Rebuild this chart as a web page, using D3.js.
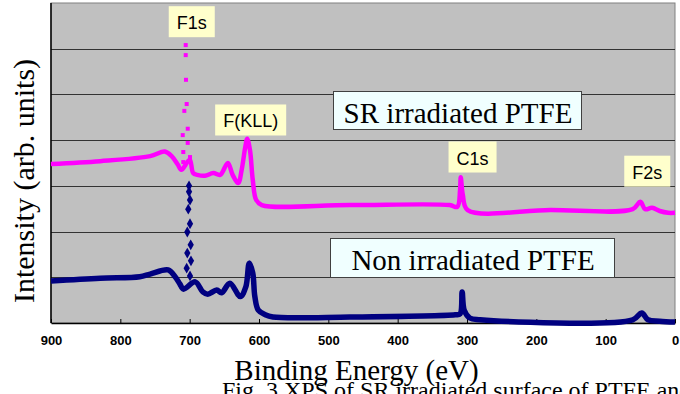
<!DOCTYPE html>
<html>
<head>
<meta charset="utf-8">
<script src="https://cdn.jsdelivr.net/npm/d3@7"></script>
<style>
  body { margin: 0; background: #fff; }
  svg { display: block; }
</style>
</head>
<body>
<div id="chart"></div>
<script>
// binding energy (eV) vs intensity (grid units)
const srLine = [
  [900, 3.48], [829, 3.54], [757, 3.65], [736, 3.75], [726, 3.65], [717, 3.46], [712, 3.35],
  [700, 3.57], [695, 3.28], [689, 3.24], [678, 3.22], [666, 3.28], [656, 3.24], [645, 3.50],
  [638, 3.24], [630, 3.06], [625, 3.35], [620, 3.83], [617, 4.03], [613, 3.78], [609, 3.13],
  [604, 2.69], [596, 2.58], [469, 2.58], [325, 2.58], [314, 2.54], [310, 2.91], [309, 3.19],
  [306, 2.80], [299, 2.47], [180, 2.47], [61, 2.49], [50, 2.65], [43, 2.49], [33, 2.52],
  [22, 2.45], [10, 2.41], [0, 2.41]
];
const srPeak = [
  [705.7, 6.08], [705.7, 5.86], [705.3, 5.32], [704.3, 4.79], [707.7, 4.64], [702.8, 4.25],
  [710.0, 4.11], [702.8, 3.94], [709.2, 3.74], [709.2, 3.52], [699.5, 3.63]
];
const nonLine = [
  [900, 0.92], [829, 0.98], [772, 1.01], [757, 1.07], [731, 1.16], [721, 1.01], [714, 0.85],
  [709, 0.74], [692, 0.90], [681, 0.68], [674, 0.63], [661, 0.72], [654, 0.66], [642, 0.87],
  [627, 0.58], [619, 0.79], [614, 1.31], [609, 1.09], [606, 0.58], [601, 0.28], [591, 0.18],
  [580, 0.13], [469, 0.13], [317, 0.18], [310, 0.20], [307, 0.68], [304, 0.28], [296, 0.11],
  [281, 0.07], [61, 0.07], [48, 0.22], [39, 0.07], [22, 0.04], [0, 0.02]
];
const nonPeak = [
  [700.9, 3.00], [700.9, 2.87], [699.5, 2.69], [702.0, 2.49], [699.5, 2.17], [703.4, 1.99],
  [698.5, 1.71], [703.4, 1.53], [698.1, 1.36], [704.3, 1.20], [699.5, 1.03]
];
const xTicks = [900, 800, 700, 600, 500, 400, 300, 200, 100, 0];
const gridLevels = [1, 2, 3, 4, 5, 6];
const peakNames = ['F1s', 'F(KLL)', 'C1s', 'F2s'];
const peakEnergies = [697, 612, 292, 40];
const peakLevels = [6.93, 4.78, 3.97, 3.66];
const seriesNames = ['SR irradiated PTFE', 'Non irradiated PTFE'];

const W = 680, H = 394;
const plot = { left: 51, right: 675, top: 3, bottom: 323 };
const serif = '"Times New Roman", "Liberation Serif", serif';
const sans = 'Arial, "Liberation Sans", sans-serif';

const svg = d3.select('#chart').append('svg')
  .attr('width', W).attr('height', H);

const x = d3.scaleLinear().domain([900, 0]).range([plot.left, plot.right]);
const y = d3.scaleLinear().domain([0, 7]).range([plot.bottom, plot.top]);

// plot background
svg.append('rect')
  .attr('x', plot.left).attr('y', plot.top)
  .attr('width', plot.right - plot.left).attr('height', plot.bottom - plot.top)
  .attr('fill', '#c0c0c0')
  .attr('stroke', '#808080');

svg.append('g')
  .selectAll('line')
  .data(gridLevels)
  .enter().append('line')
  .attr('x1', plot.left).attr('x2', plot.right)
  .attr('y1', d => Math.round(y(d)) + 0.5).attr('y2', d => Math.round(y(d)) + 0.5)
  .attr('stroke', '#333');

// axes
const xAxis = svg.append('g')
  .attr('transform', `translate(0,${plot.bottom})`)
  .call(d3.axisBottom(x).tickValues(xTicks).tickSizeInner(-4).tickSizeOuter(0).tickPadding(13));
xAxis.select('.domain').attr('stroke', '#000').attr('stroke-width', 1.5);
xAxis.selectAll('.tick line').attr('stroke', '#000');
xAxis.selectAll('.tick text')
  .style('font-family', sans)
  .style('font-size', '13px')
  .style('font-weight', 'bold')
  .attr('fill', '#000');

svg.append('line')
  .attr('x1', plot.left).attr('x2', plot.left)
  .attr('y1', plot.top).attr('y2', plot.bottom)
  .attr('stroke', '#000').attr('stroke-width', 1.5);

// spectra
const line = d3.line()
  .x(d => x(d[0]))
  .y(d => y(d[1]))
  .curve(d3.curveCatmullRom.alpha(0.5));

svg.append('path')
  .datum(srLine)
  .attr('d', line)
  .attr('fill', 'none')
  .attr('stroke', '#ff00ff')
  .attr('stroke-width', 4.5)
  .attr('stroke-linejoin', 'round');

svg.selectAll('.sr-dot')
  .data(srPeak)
  .enter().append('rect')
  .attr('class', 'sr-dot')
  .attr('x', d => x(d[0]) - 2).attr('y', d => y(d[1]) - 2)
  .attr('width', 4).attr('height', 4)
  .attr('fill', '#ff00ff');

svg.append('path')
  .datum(nonLine)
  .attr('d', line)
  .attr('fill', 'none')
  .attr('stroke', '#000080')
  .attr('stroke-width', 5.5)
  .attr('stroke-linejoin', 'round');

svg.selectAll('.non-dot')
  .data(nonPeak)
  .enter().append('path')
  .attr('class', 'non-dot')
  .attr('transform', d => `translate(${x(d[0])},${y(d[1])})`)
  .attr('d', d3.symbol().type(d3.symbolDiamond).size(34))
  .attr('fill', '#000080');

// peak labels
const peakLabels = svg.append('g')
  .selectAll('g')
  .data(peakNames)
  .enter().append('g')
  .attr('transform', (d, i) => `translate(${x(peakEnergies[i])},${y(peakLevels[i])})`);

peakLabels.append('text')
  .attr('text-anchor', 'middle')
  .attr('y', 23)
  .style('font-family', sans)
  .style('font-size', '18px')
  .text(d => d)
  .each(function () {
    const b = this.getBBox();
    d3.select(this.parentNode).insert('rect', 'text')
      .attr('x', b.x - 8).attr('y', 0)
      .attr('width', b.width + 16).attr('height', 31)
      .attr('fill', '#ffffcc');
  });

// series name boxes
const boxX = [333, 330];
const boxY = [91, 238];
const boxW = [248, 284];
const names = svg.append('g')
  .selectAll('g')
  .data(seriesNames)
  .enter().append('g')
  .attr('transform', (d, i) => `translate(${boxX[i]},${boxY[i]})`);

names.append('rect')
  .attr('x', 0.5).attr('y', 0.5)
  .attr('width', (d, i) => boxW[i]).attr('height', (d, i) => i === 0 ? 38 : 39)
  .attr('fill', '#f0ffff')
  .attr('stroke', '#404040');

names.append('text')
  .attr('x', (d, i) => boxW[i] / 2 + 1)
  .attr('y', 32)
  .attr('text-anchor', 'middle')
  .style('font-family', serif)
  .style('font-size', '29px')
  .text(d => d);

// axis titles
svg.append('text')
  .attr('x', 356.5)
  .attr('y', 380)
  .attr('text-anchor', 'middle')
  .style('font-family', serif)
  .style('font-size', '29px')
  .text('Binding Energy (eV)');

svg.append('text')
  .attr('transform', 'rotate(-90)')
  .attr('x', -181)
  .attr('y', 34)
  .attr('text-anchor', 'middle')
  .style('font-family', serif)
  .style('font-size', '30px')
  .text('Intensity (arb. units)');

// figure caption, cut off by the bottom edge
svg.append('text')
  .attr('x', 222)
  .attr('y', 398)
  .style('font-family', serif)
  .style('font-size', '24px')
  .text('Fig. 3 XPS of SR irradiated surface of PTFE and');
</script>
</body>
</html>
